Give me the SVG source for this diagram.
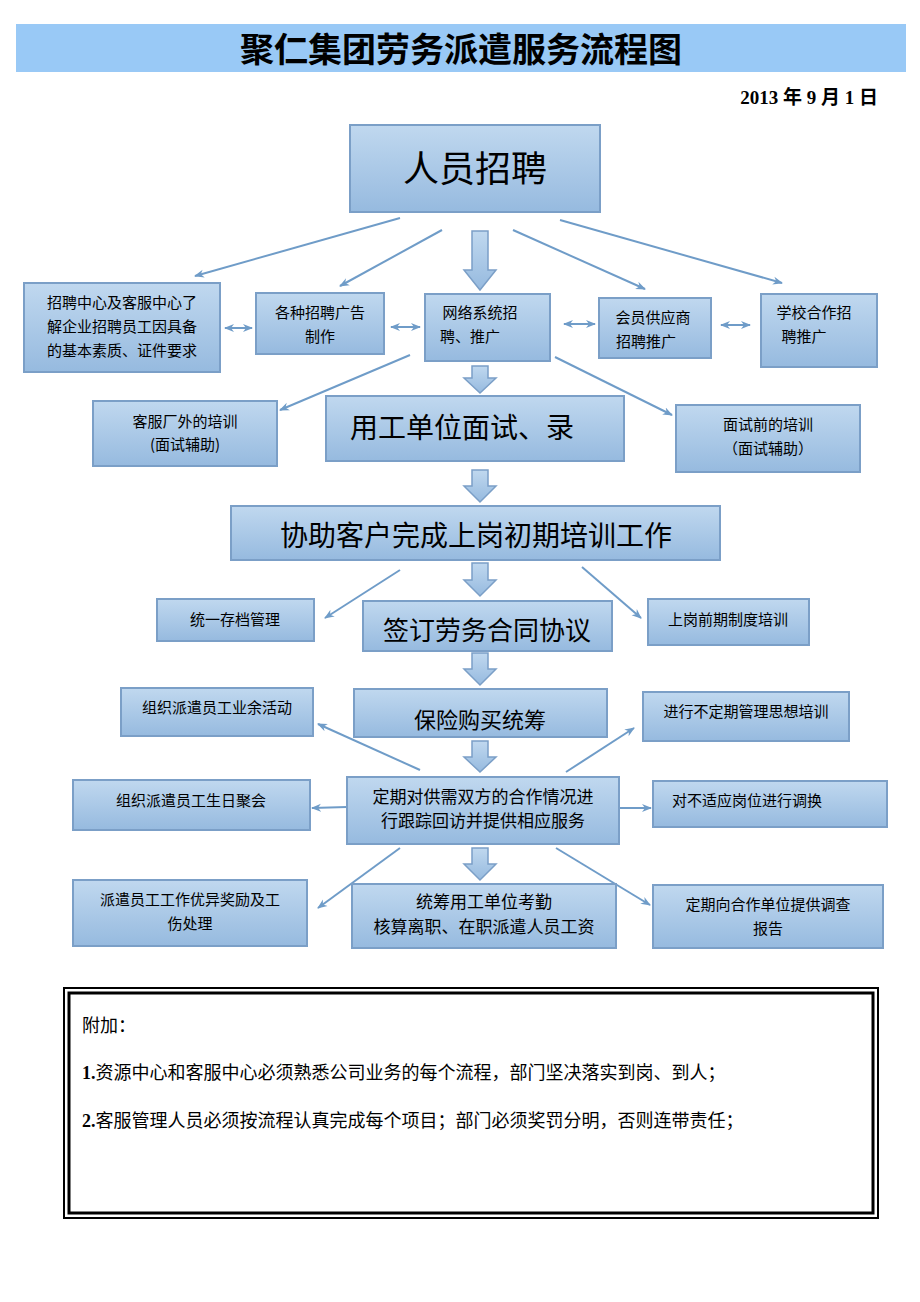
<svg xmlns="http://www.w3.org/2000/svg" width="920" height="1302" viewBox="0 0 920 1302">
<defs>
<linearGradient id="g" x1="0" y1="0" x2="0" y2="1"><stop offset="0" stop-color="#c0d8ef"/><stop offset="1" stop-color="#96badf"/></linearGradient>
<marker id="a" markerWidth="10" markerHeight="10" refX="9" refY="5" orient="auto" markerUnits="userSpaceOnUse"><path d="M0,1 L10,5 L0,9 L3,5 Z" fill="#6f9cc8"/></marker>
<marker id="s" markerWidth="10" markerHeight="10" refX="1" refY="5" orient="auto" markerUnits="userSpaceOnUse"><path d="M10,1 L0,5 L10,9 L7,5 Z" fill="#6f9cc8"/></marker>
<path id="ba" d="M-7,0 H7 V-0 Z"/>
</defs>
<style>
.n{fill:url(#g);stroke:#7b9fc7;stroke-width:2}
.t{font-family:"Noto Sans CJK SC",sans-serif;fill:#000;text-anchor:middle}
.sm{font-size:15px}
.lg{font-size:28px}
.c line{stroke:#6f9cc8;stroke-width:2;marker-end:url(#a)}
.c line.d{marker-start:url(#s)}
.b{fill:url(#g);stroke:#7b9fc7;stroke-width:1.5}
</style>
<rect width="920" height="1302" fill="#fff"/>
<rect x="16" y="24" width="890" height="48" fill="#99c9f6"/>
<text x="461" y="62" class="t" style="font-size:34px;font-weight:bold">聚仁集团劳务派遣服务流程图</text>
<text x="878" y="104" style="font-family:'Liberation Serif','Noto Sans CJK SC',serif;font-size:19px;font-weight:bold;text-anchor:end">2013 年 9 月 1 日</text>

<g class="c">
<line x1="400" y1="218" x2="195" y2="276"/>
<line x1="442" y1="230" x2="340" y2="286"/>
<line x1="513" y1="230" x2="645" y2="289"/>
<line x1="560" y1="220" x2="782" y2="283"/>
<line x1="410" y1="355" x2="280" y2="410"/>
<line x1="555" y1="357" x2="672" y2="415"/>
<line x1="400" y1="570" x2="325" y2="618"/>
<line x1="582" y1="567" x2="641" y2="618"/>
<line x1="420" y1="770" x2="318" y2="724"/>
<line x1="566" y1="772" x2="634" y2="728"/>
<line x1="347" y1="807" x2="312" y2="808"/>
<line x1="619" y1="808" x2="651" y2="808"/>
<line x1="400" y1="848" x2="318" y2="908"/>
<line x1="556" y1="848" x2="650" y2="905"/>
<line class="d" x1="225" y1="328" x2="252" y2="328"/>
<line class="d" x1="391" y1="327" x2="420" y2="327"/>
<line class="d" x1="564" y1="324" x2="595" y2="324"/>
<line class="d" x1="721" y1="325" x2="750" y2="325"/>
<path class="b" d="M472,231 H488 V270 H496 L480,290 L464,270 H472 Z"/>
<path class="b" d="M472,366 H488 V378 H496 L480,393 L464,378 H472 Z"/>
<path class="b" d="M472,470 H488 V486 H496 L480,502 L464,486 H472 Z"/>
<path class="b" d="M472,563 H488 V580 H496 L480,596 L464,580 H472 Z"/>
<path class="b" d="M472,653 H488 V669 H496 L480,685 L464,669 H472 Z"/>
<path class="b" d="M472,741 H488 V757 H496 L480,772 L464,757 H472 Z"/>
<path class="b" d="M472,848 H488 V864 H496 L480,880 L464,864 H472 Z"/>
</g>

<g id="n1"><rect class="n" x="350" y="125" width="250" height="87"/><text x="475" y="182" class="t" style="font-size:36px">人员招聘</text></g>
<g id="n2"><rect class="n" x="24" y="283" width="196" height="89"/><text class="t sm" x="122" y="308">招聘中心及客服中心了</text><text class="t sm" x="122" y="332">解企业招聘员工因具备</text><text class="t sm" x="122" y="356">的基本素质、证件要求</text></g>
<g id="n3"><rect class="n" x="256" y="293" width="128" height="61"/><text class="t sm" x="320" y="318">各种招聘广告</text><text class="t sm" x="320" y="342">制作</text></g>
<g id="n4"><rect class="n" x="425" y="294" width="125" height="67"/><text class="t sm" x="480" y="318">网络系统招</text><text class="t sm" x="470" y="342">聘、推广</text></g>
<g id="n5"><rect class="n" x="599" y="298" width="112" height="60"/><text class="t sm" x="653" y="323">会员供应商</text><text class="t sm" x="646" y="347">招聘推广</text></g>
<g id="n6"><rect class="n" x="761" y="294" width="116" height="73"/><text class="t sm" x="814" y="318">学校合作招</text><text class="t sm" x="804" y="342">聘推广</text></g>
<g id="n7"><rect class="n" x="93" y="401" width="184" height="65"/><text class="t sm" x="185" y="427">客服厂外的培训</text><text class="t sm" x="185" y="450">(面试辅助)</text></g>
<g id="n8"><rect class="n" x="326" y="396" width="298" height="65"/><text class="t lg" x="462" y="438">用工单位面试、录</text></g>
<g id="n9"><rect class="n" x="676" y="405" width="184" height="67"/><text class="t sm" x="768" y="430">面试前的培训</text><text class="t sm" x="768" y="454">（面试辅助）</text></g>
<g id="n10"><rect class="n" x="231" y="506" width="489" height="54"/><text class="t lg" x="476" y="546">协助客户完成上岗初期培训工作</text></g>
<g id="n11"><rect class="n" x="157" y="599" width="157" height="42"/><text class="t sm" x="235" y="625">统一存档管理</text></g>
<g id="n12"><rect class="n" x="363" y="601" width="249" height="50"/><text class="t" style="font-size:26px" x="487" y="640">签订劳务合同协议</text></g>
<g id="n13"><rect class="n" x="648" y="599" width="161" height="46"/><text class="t sm" x="728" y="625">上岗前期制度培训</text></g>
<g id="n14"><rect class="n" x="121" y="688" width="192" height="48"/><text class="t sm" x="217" y="713">组织派遣员工业余活动</text></g>
<g id="n15"><rect class="n" x="354" y="689" width="253" height="48"/><text class="t" style="font-size:22px" x="480" y="728">保险购买统筹</text></g>
<g id="n16"><rect class="n" x="643" y="692" width="206" height="49"/><text class="t sm" x="746" y="717">进行不定期管理思想培训</text></g>
<g id="n17"><rect class="n" x="73" y="780" width="237" height="50"/><text class="t sm" x="191" y="806">组织派遣员工生日聚会</text></g>
<g id="n18"><rect class="n" x="347" y="777" width="272" height="67"/><text class="t" style="font-size:17px" x="483" y="803">定期对供需双方的合作情况进</text><text class="t" style="font-size:17px" x="483" y="827">行跟踪回访并提供相应服务</text></g>
<g id="n19"><rect class="n" x="653" y="781" width="234" height="46"/><text class="t sm" x="747" y="806">对不适应岗位进行调换</text></g>
<g id="n20"><rect class="n" x="73" y="880" width="234" height="66"/><text class="t sm" x="190" y="905">派遣员工工作优异奖励及工</text><text class="t sm" x="190" y="929">伤处理</text></g>
<g id="n21"><rect class="n" x="352" y="884" width="264" height="64"/><text class="t" style="font-size:17px" x="484" y="908">统筹用工单位考勤</text><text class="t" style="font-size:17px" x="484" y="933">核算离职、在职派遣人员工资</text></g>
<g id="n22"><rect class="n" x="653" y="885" width="230" height="63"/><text class="t sm" x="768" y="910">定期向合作单位提供调查</text><text class="t sm" x="768" y="934">报告</text></g>

<g id="note">
<rect x="64" y="988" width="814" height="230" fill="none" stroke="#000" stroke-width="2"/>
<rect x="69" y="993" width="804" height="220" fill="none" stroke="#000" stroke-width="3"/>
<g style="font-family:'Liberation Serif','Noto Sans CJK SC',serif;font-size:18px">
<text x="82" y="1032">附加：</text>
<text x="82" y="1079"><tspan font-weight="bold">1.</tspan>资源中心和客服中心必须熟悉公司业务的每个流程，部门坚决落实到岗、到人；</text>
<text x="82" y="1127"><tspan font-weight="bold">2.</tspan>客服管理人员必须按流程认真完成每个项目；部门必须奖罚分明，否则连带责任；</text>
</g>
</g>
</svg>
